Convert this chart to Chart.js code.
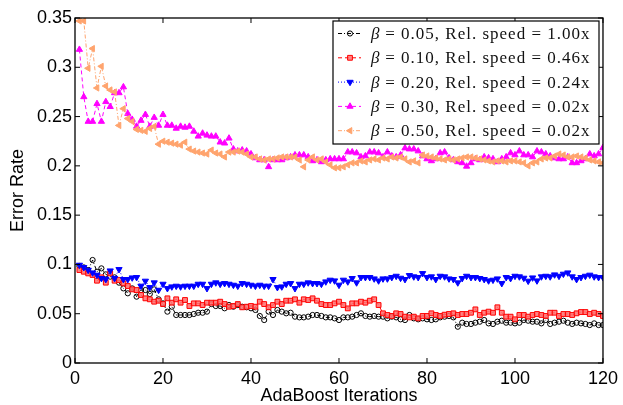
<!DOCTYPE html>
<html>
<head>
<meta charset="utf-8">
<script src="https://cdn.jsdelivr.net/npm/chart.js@4/dist/chart.umd.min.js"></script>
<style>
  html, body { margin: 0; padding: 0; background: #fff; }
  canvas { display: block; }
</style>
</head>
<body>
<canvas id="errChart" width="623" height="405"></canvas>
<script>
// iteration numbers (x categories)
const iterations = Array.from({ length: 120 }, (_, i) => i + 1);

const xTicks = [0, 20, 40, 60, 80, 100, 120];
const yTicks = [0, 0.05, 0.1, 0.15, 0.2, 0.25, 0.3, 0.35];

const seriesLabels = [
    "0.05, Rel. speed = 1.00x",
    "0.10, Rel. speed = 0.46x",
    "0.20, Rel. speed = 0.24x",
    "0.30, Rel. speed = 0.02x",
    "0.50, Rel. speed = 0.02x"
];

// beta = 0.05
const errBeta005 = [
    0.0984, 0.0970, 0.0943, 0.1045, 0.0926, 0.0960, 0.0899, 0.0876, 0.0869, 0.0815,
    0.0757, 0.0707, 0.0757, 0.0673, 0.0740, 0.0740, 0.0700, 0.0747, 0.0646, 0.0605,
    0.0521, 0.0571, 0.0487, 0.0487, 0.0487, 0.0487, 0.0497, 0.0510, 0.0510, 0.0521,
    0.0598, 0.0578, 0.0578, 0.0555, 0.0588, 0.0571, 0.0588, 0.0571, 0.0565, 0.0555,
    0.0538, 0.0477, 0.0436, 0.0521, 0.0487, 0.0538, 0.0521, 0.0504, 0.0510, 0.0470,
    0.0463, 0.0463, 0.0470, 0.0487, 0.0487, 0.0477, 0.0463, 0.0463, 0.0453, 0.0436,
    0.0463, 0.0463, 0.0470, 0.0487, 0.0504, 0.0477, 0.0470, 0.0477, 0.0470, 0.0470,
    0.0453, 0.0470, 0.0463, 0.0443, 0.0436, 0.0487, 0.0453, 0.0443, 0.0453, 0.0443,
    0.0436, 0.0443, 0.0463, 0.0470, 0.0477, 0.0463, 0.0368, 0.0409, 0.0396, 0.0396,
    0.0409, 0.0419, 0.0436, 0.0402, 0.0396, 0.0419, 0.0429, 0.0409, 0.0409, 0.0402,
    0.0409, 0.0436, 0.0429, 0.0419, 0.0419, 0.0402, 0.0436, 0.0396, 0.0409, 0.0419,
    0.0429, 0.0409, 0.0396, 0.0409, 0.0402, 0.0396, 0.0385, 0.0402, 0.0385, 0.0385
];

// beta = 0.10
const errBeta010 = [
    0.0943, 0.0926, 0.0909, 0.0893, 0.0835, 0.0869, 0.0815, 0.0909, 0.0835, 0.0842,
    0.0808, 0.0781, 0.0747, 0.0740, 0.0690, 0.0656, 0.0646, 0.0622, 0.0632, 0.0598,
    0.0656, 0.0612, 0.0646, 0.0612, 0.0639, 0.0578, 0.0605, 0.0605, 0.0588, 0.0612,
    0.0612, 0.0612, 0.0622, 0.0598, 0.0571, 0.0578, 0.0598, 0.0565, 0.0571, 0.0578,
    0.0571, 0.0622, 0.0598, 0.0565, 0.0588, 0.0622, 0.0598, 0.0632, 0.0632, 0.0646,
    0.0612, 0.0646, 0.0639, 0.0656, 0.0632, 0.0598, 0.0588, 0.0588, 0.0605, 0.0622,
    0.0588, 0.0554, 0.0605, 0.0605, 0.0622, 0.0612, 0.0632, 0.0646, 0.0588, 0.0504,
    0.0487, 0.0477, 0.0504, 0.0497, 0.0470, 0.0463, 0.0470, 0.0453, 0.0477, 0.0477,
    0.0504, 0.0487, 0.0477, 0.0490, 0.0497, 0.0504, 0.0487, 0.0497, 0.0497, 0.0510,
    0.0544, 0.0487, 0.0510, 0.0521, 0.0510, 0.0565, 0.0510, 0.0470, 0.0470, 0.0443,
    0.0487, 0.0487, 0.0470, 0.0487, 0.0497, 0.0487, 0.0477, 0.0510, 0.0510, 0.0477,
    0.0497, 0.0497, 0.0487, 0.0504, 0.0517, 0.0517, 0.0497, 0.0510, 0.0497, 0.0477
];

// beta = 0.20
const errBeta020 = [
    0.0994, 0.0970, 0.0943, 0.0916, 0.0893, 0.0859, 0.0849, 0.0936, 0.0859, 0.0950,
    0.0849, 0.0849, 0.0865, 0.0869, 0.0781, 0.0832, 0.0767, 0.0815, 0.0740, 0.0801,
    0.0757, 0.0774, 0.0781, 0.0774, 0.0781, 0.0781, 0.0781, 0.0801, 0.0801, 0.0757,
    0.0801, 0.0815, 0.0801, 0.0808, 0.0801, 0.0791, 0.0781, 0.0808, 0.0801, 0.0791,
    0.0781, 0.0791, 0.0781, 0.0781, 0.0849, 0.0767, 0.0774, 0.0801, 0.0808, 0.0757,
    0.0801, 0.0801, 0.0815, 0.0808, 0.0808, 0.0801, 0.0825, 0.0842, 0.0835, 0.0791,
    0.0842, 0.0825, 0.0859, 0.0815, 0.0869, 0.0869, 0.0869, 0.0855, 0.0835, 0.0855,
    0.0855, 0.0869, 0.0882, 0.0862, 0.0849, 0.0889, 0.0876, 0.0869, 0.0909, 0.0869,
    0.0876, 0.0849, 0.0882, 0.0876, 0.0855, 0.0849, 0.0815, 0.0859, 0.0882, 0.0869,
    0.0869, 0.0859, 0.0849, 0.0835, 0.0842, 0.0855, 0.0808, 0.0869, 0.0859, 0.0882,
    0.0876, 0.0862, 0.0832, 0.0865, 0.0835, 0.0876, 0.0882, 0.0876, 0.0896, 0.0882,
    0.0903, 0.0916, 0.0876, 0.0849, 0.0869, 0.0882, 0.0893, 0.0876, 0.0869, 0.0869
];

// beta = 0.30
const errBeta030 = [
    0.318, 0.270, 0.245, 0.245, 0.263, 0.245, 0.265, 0.260, 0.274, 0.274,
    0.280, 0.253, 0.247, 0.240, 0.246, 0.252, 0.240, 0.249, 0.241, 0.252,
    0.241, 0.241, 0.238, 0.240, 0.239, 0.240, 0.235, 0.230, 0.233, 0.231,
    0.230, 0.230, 0.224, 0.223, 0.228, 0.217, 0.215, 0.216, 0.215, 0.212,
    0.208, 0.206, 0.206, 0.199, 0.206, 0.206, 0.206, 0.208, 0.209, 0.211,
    0.211, 0.211, 0.209, 0.205, 0.206, 0.204, 0.206, 0.207, 0.207, 0.207,
    0.207, 0.214, 0.214, 0.213, 0.209, 0.210, 0.214, 0.214, 0.213, 0.209,
    0.214, 0.210, 0.209, 0.211, 0.218, 0.217, 0.217, 0.215, 0.210, 0.207,
    0.205, 0.207, 0.213, 0.214, 0.208, 0.206, 0.204, 0.203, 0.1995, 0.203,
    0.207, 0.206, 0.209, 0.208, 0.207, 0.204, 0.207, 0.209, 0.213, 0.211,
    0.215, 0.211, 0.211, 0.209, 0.215, 0.214, 0.212, 0.210, 0.208, 0.207,
    0.207, 0.209, 0.203, 0.203, 0.205, 0.207, 0.212, 0.210, 0.212, 0.2185
];

// beta = 0.50
const errBeta050 = [
    0.347, 0.347, 0.299, 0.319, 0.279, 0.301, 0.281, 0.277, 0.275, 0.241,
    0.258, 0.248, 0.245, 0.237, 0.236, 0.235, 0.238, 0.240, 0.222, 0.225,
    0.224, 0.223, 0.222, 0.221, 0.224, 0.217, 0.215, 0.214, 0.213, 0.212,
    0.216, 0.213, 0.212, 0.209, 0.214, 0.214, 0.215, 0.214, 0.212, 0.209,
    0.209, 0.207, 0.206, 0.207, 0.207, 0.208, 0.209, 0.209, 0.209, 0.209,
    0.206, 0.199, 0.206, 0.209, 0.206, 0.207, 0.204, 0.201, 0.198, 0.198,
    0.199, 0.201, 0.203, 0.203, 0.205, 0.204, 0.206, 0.207, 0.206, 0.208,
    0.207, 0.209, 0.208, 0.209, 0.207, 0.204, 0.205, 0.203, 0.211, 0.210,
    0.209, 0.208, 0.207, 0.206, 0.207, 0.206, 0.207, 0.208, 0.209, 0.209,
    0.208, 0.207, 0.206, 0.205, 0.204, 0.205, 0.205, 0.204, 0.205, 0.205,
    0.204, 0.203, 0.200, 0.203, 0.204, 0.207, 0.208, 0.208, 0.210, 0.212,
    0.211, 0.209, 0.209, 0.210, 0.209, 0.208, 0.206, 0.205, 0.204, 0.203
];

const seriesValues = [errBeta005, errBeta010, errBeta020, errBeta030, errBeta050];
const seriesColors = ["#000000", "#ff0000", "#0000ff", "#ff00ff", "#ffa46e"];
const seriesFills = ["rgba(255,255,255,0)", "rgba(255,110,110,0.85)", "#0000ff", "#ff00ff", "#ffa46e"];
const seriesDash = [[4, 2, 1, 2], [4, 3], [1, 2], [4, 3], [4, 2, 1, 2]];
const seriesStyle = ["circle", "rect", "triangle", "triangle", "triangle"];
const seriesRotation = [0, 0, 180, 0, 270];
const seriesRadius = [2.6, 3.4, 3.6, 3.6, 3.6];

const datasets = seriesValues.map((vals, k) => ({
    label: seriesLabels[k],
    data: vals.map((v, i) => ({ x: iterations[i], y: v })),
    borderColor: seriesColors[k],
    backgroundColor: seriesFills[k],
    borderWidth: 1,
    borderDash: seriesDash[k],
    pointStyle: seriesStyle[k],
    pointRotation: seriesRotation[k],
    pointRadius: seriesRadius[k],
    pointBorderWidth: 1,
    pointBorderColor: seriesColors[k],
    pointBackgroundColor: seriesFills[k],
    fill: false,
    tension: 0,
    order: 4 - k
}));

function drawMarker(ctx, k, x, y) {
    const opts = { pointStyle: seriesStyle[k], rotation: seriesRotation[k], radius: seriesRadius[k], borderWidth: 1 };
    ctx.save();
    ctx.fillStyle = seriesFills[k];
    ctx.strokeStyle = seriesColors[k];
    ctx.lineWidth = 1;
    ctx.setLineDash([]);
    Chart.helpers.drawPoint(ctx, opts, x, y);
    ctx.restore();
}

// box, inward ticks and the legend box inside the plot
const framePlugin = {
    id: "frame",
    afterDraw(chart) {
        const { ctx, chartArea: a, scales } = chart;
        ctx.save();
        ctx.strokeStyle = "#000";
        ctx.lineWidth = 1.3;
        ctx.setLineDash([]);
        ctx.strokeRect(a.left, a.top, a.right - a.left, a.bottom - a.top);
        ctx.lineWidth = 1;
        ctx.beginPath();
        xTicks.forEach(t => {
            const px = scales.x.getPixelForValue(t);
            ctx.moveTo(px, a.bottom); ctx.lineTo(px, a.bottom - 5);
            ctx.moveTo(px, a.top); ctx.lineTo(px, a.top + 5);
        });
        yTicks.forEach(t => {
            const py = scales.y.getPixelForValue(t);
            ctx.moveTo(a.left, py); ctx.lineTo(a.left + 5, py);
            ctx.moveTo(a.right, py); ctx.lineTo(a.right - 5, py);
        });
        ctx.stroke();

        // legend
        const lx = 333, ly = 21, lw = 266, lh = 123;
        ctx.fillStyle = "#fff";
        ctx.fillRect(lx, ly, lw, lh);
        ctx.lineWidth = 1.2;
        ctx.strokeRect(lx, ly, lw, lh);
        const rowH = 24.3;
        seriesLabels.forEach((label, k) => {
            const cy = ly + 12.5 + k * rowH;
            ctx.strokeStyle = seriesColors[k];
            ctx.lineWidth = 1;
            ctx.setLineDash(seriesDash[k]);
            ctx.beginPath();
            ctx.moveTo(338, cy); ctx.lineTo(361, cy);
            ctx.stroke();
            drawMarker(ctx, k, 350, cy);
            ctx.fillStyle = "#111";
            ctx.textBaseline = "middle";
            ctx.textAlign = "left";
            ctx.letterSpacing = "0px";
            ctx.font = "italic 17px 'Liberation Serif', serif";
            ctx.fillText("\u03b2", 371, cy + 1);
            ctx.font = "17px 'Liberation Serif', serif";
            ctx.letterSpacing = "1px";
            ctx.fillText(" = " + label, 380, cy + 1);
        });
        ctx.restore();
    }
};

const axisFont = { family: "'Liberation Sans', Arial, sans-serif", size: 18 };
const titleFont = { family: "'Liberation Sans', Arial, sans-serif", size: 18, lineHeight: 1 };

new Chart(document.getElementById("errChart").getContext("2d"), {
    type: "line",
    data: { datasets: datasets },
    options: {
        responsive: false,
        animation: false,
        layout: { padding: { top: 18, right: 18, bottom: 0, left: 0 } },
        plugins: {
            legend: { display: false },
            tooltip: { enabled: false }
        },
        scales: {
            x: {
                type: "linear",
                min: 0,
                max: 120,
                afterBuildTicks: s => { s.ticks = xTicks.map(v => ({ value: v })); },
                afterFit: s => { s.height = 42; },
                ticks: { font: axisFont, color: "#000", padding: 5, maxRotation: 0 },
                grid: { display: false, drawTicks: false },
                border: { display: false },
                title: {
                    display: true,
                    text: "AdaBoost Iterations",
                    font: titleFont,
                    color: "#000",
                    padding: { top: 0, bottom: 0 }
                }
            },
            y: {
                type: "linear",
                min: 0,
                max: 0.35,
                afterBuildTicks: s => { s.ticks = yTicks.map(v => ({ value: v })); },
                afterFit: s => { s.width = 75; },
                ticks: { font: axisFont, color: "#000", padding: 3, callback: v => String(+v.toFixed(2)) },
                grid: { display: false, drawTicks: false },
                border: { display: false },
                title: {
                    display: true,
                    text: "Error Rate",
                    font: titleFont,
                    color: "#000",
                    padding: { top: 9, bottom: 0 }
                }
            }
        }
    },
    plugins: [framePlugin]
});
</script>
</body>
</html>
